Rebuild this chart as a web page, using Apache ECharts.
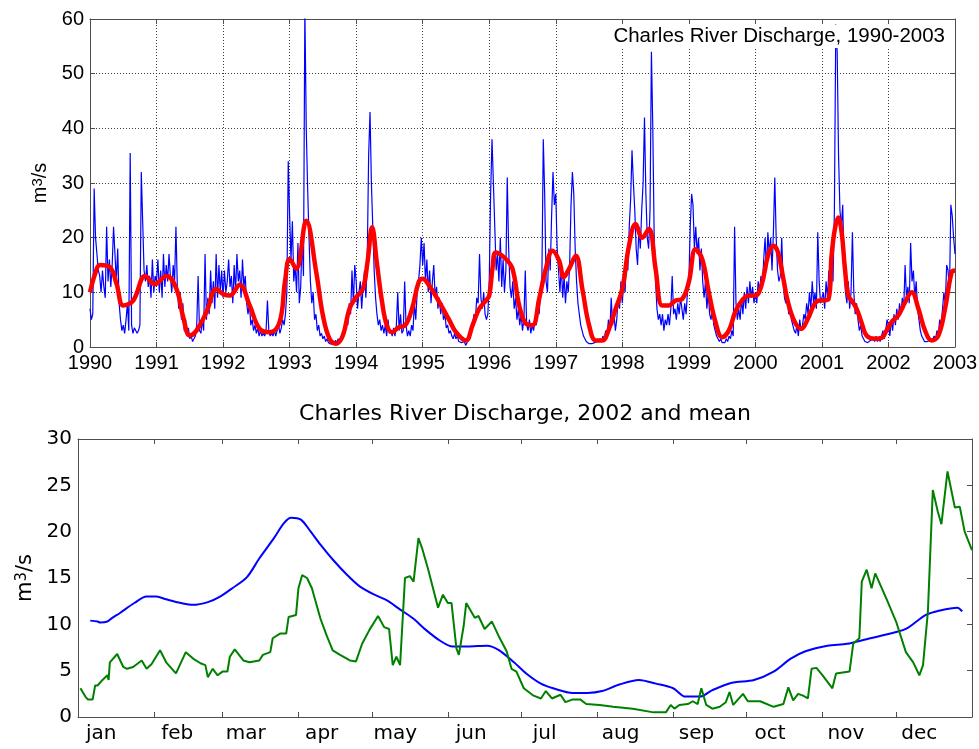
<!DOCTYPE html>
<html>
<head>
<meta charset="utf-8">
<title>Charles River Discharge</title>
<script src="https://cdn.jsdelivr.net/npm/echarts@6/dist/echarts.min.js"></script>
<style>
  html, body { margin: 0; padding: 0; background: #fff; }
  #chart { width: 979px; height: 749px; }
</style>
</head>
<body>
<div id="chart"></div>
<script>
// top panel: discharge (m3/s), 48 readings per year
var q1990 = [7,5,6,29,20,17,14,13,10,14,11,9,22,12,16,11,15,22,17,12,18,8,5,3,4,2.5,5,8,3,35.5,4,2.5,3.5,3,2.5,3,4,32,23,14,12,15,11,13,9,16,10,13];
var q1991 = [12,16,10,14,9,17,11,15,12,17,13,10,15,12,22,11,7,10,5,8,3,5,2,3.5,1.5,2,1,0.8,2,4,13,3,2.5,5,3,17,5,9,6,14,8,12,7,17,9,15,10,14];
var q1992 = [9,14,10,12,16,11,13,8,15,10,17,12,14,9,16,11,13,8,6,8,4,5,3,4,2.5,3.5,2,3,2,2.5,2,3,8.5,3,2,2.5,2,3,2,3,4,2.5,3.5,5,4,6,10,34];
var q1993 = [24,16,23,12,15,10,19,8,11,20,13,62,40,29,20,12,8,10,5,6,3,4,2,2.5,1.5,2,1,1.5,0.8,1,0.5,1,0.6,1.2,0.8,1.5,1,2,1.5,3,2.5,5,4,8,6,14,8,15];
var q1994 = [12,7,10,12,7,11,14,9,16,35,43,30,22,14,9,6,4,5,3,4,2.5,4,2,5,2.5,3,2,3.5,2,4,10,3,6,2.5,3,12,4,2,3,2,4,3,8,5,10,12,15,20];
var q1995 = [15,19,12,16,10,14,8,12,15,9,11,7,9,6,8,5,6,3.5,4,2.5,3,2,1.5,2.5,1.5,2,1,1.2,0.8,0.5,1,0.3,0.8,2,1.5,3,4,6,5,9,8,17,9,7,10,6,5,6];
var q1996 = [12,28,38,30,22,14,17,12,20,11,16,10,14,31,18,11,9,12,7,9,5,7,4,6,3,5,14,4,3,5,2.5,4,3,5,4,8,6,10,13,38,28,12,10,18,14,24,32,26];
var q1997 = [28,18,14,10,15,9,13,8,12,10,15,26,32,28,18,12,8,6,4,3,2,1.5,1,0.8,0.6,0.5,0.6,0.5,0.8,0.6,1,0.8,1.5,1,2,1.5,3,2,5,3,9,4,6,3,5,9,7,12];
var q1998 = [8,12,10,17,14,22,27,36,30,25,18,15,22,18,25,30,42,28,20,18,25,54,40,20,12,7,5,6,4,6,3,5,4,6,4,7,13,6,7,5,8,6,9,7,5,8,6,10];
var q1999 = [12,22,28,26,18,22,17,20,14,18,12,9,12,7,10,6,5,7,4,3,2,1.5,1,1.5,0.8,1,0.8,1.5,1,2,1.5,3,2,22,8,5,7,5,9,6,10,7,11,8,12,9,11,8];
var q2000 = [10,8,12,10,13,11,16,20,14,21,17,20,14,21,31,20,14,12,13,20,12,9,8,10,6,7,5,4,3,2.5,4,2,5,3,4,6,5,8,6,10,7,12,8,10,7,21,12,8];
var q2001 = [8,10,7,12,9,14,10,17,12,25,59,54,35,25,22,26,15,10,8,12,7,10,21,10,6,8,5,3,4,2,1.5,1,1.2,0.8,1,1.2,1,1.5,1,2,1,1.5,1,2,3,1.5,3,5];
var q2002 = [4,2,5,3,6,4,7,5,8,6,9,7,15,9,11,8,19,12,14,9,12,7,5,3,2,1.5,1,0.8,1,0.8,1.2,1,1.5,2,1.5,3,2.5,5,4,7,10,8,15,14,10,26,24,20];
var qJan2003 = 17;

// top panel: smoothed discharge (red)
var smoothT = [1990.0,1990.08,1990.15,1990.3,1990.4,1990.5,1990.65,1990.83,1990.97,
  1991.15,1991.3,1991.4,1991.5,1991.6,1991.75,1991.9,
  1992.0,1992.1,1992.25,1992.4,1992.55,1992.7,1992.85,1992.93,
  1993.0,1993.1,1993.25,1993.4,1993.5,1993.6,1993.7,1993.8,1993.9,
  1994.0,1994.1,1994.17,1994.24,1994.31,1994.39,1994.46,1994.54,1994.64,1994.74,1994.84,1994.94,
  1995.0,1995.1,1995.25,1995.4,1995.5,1995.65,1995.75,1995.85,1995.95,
  1996.0,1996.05,1996.1,1996.25,1996.35,1996.45,1996.55,1996.65,1996.75,1996.85,1996.95,
  1997.05,1997.12,1997.2,1997.3,1997.4,1997.5,1997.6,1997.7,1997.8,1997.9,
  1998.0,1998.1,1998.2,1998.3,1998.4,1998.5,1998.6,1998.7,1998.8,1998.9,
  1999.0,1999.1,1999.2,1999.3,1999.4,1999.5,1999.6,1999.7,1999.8,1999.9,
  2000.0,2000.09,2000.19,2000.27,2000.34,2000.42,2000.49,2000.59,2000.69,2000.79,2000.89,2000.97,
  2001.0,2001.1,2001.145,2001.195,2001.245,2001.296,2001.346,2001.396,2001.446,2001.52,2001.6,2001.67,2001.8,2001.9,2001.97,
  2002.05,2002.15,2002.25,2002.35,2002.45,2002.55,2002.65,2002.75,2002.85,2002.95,2003.0];
var smoothQ = [10,13.5,15,14.6,11.5,7.6,8.5,13,11.5,
  13,10.6,5.5,2.1,3,6.4,10.6,
  9.7,9.4,11.4,7.6,3.3,2.7,4.6,11.9,
  16.1,14.3,23.1,13.7,5.8,1.5,0.6,2.1,7,
  9.1,10.6,15.5,21.9,15.5,8.2,4,2.7,3.6,4,7,11.9,
  12.5,11.2,8.2,4.9,2.7,1.2,4,7,8.5,
  9.4,14.5,17.3,16.1,14.3,7.6,4.3,4,8.8,14.3,17.6,
  15.8,12.8,14.3,16.7,10.6,4,1.2,1.2,3.3,7,
  10.6,18.5,22.5,20,21.6,14.3,7.6,7.6,8.5,8.8,
  11.9,17.9,16.1,10,4.6,1.8,3,6.5,8.5,9.4,
  9.4,11.2,16.7,18.5,17.3,12.5,8.2,4.6,3.3,5.2,7.9,8.5,
  8.5,8.8,16.7,21.6,23.7,21,14.3,9.4,8.5,7,4.3,2.1,1.5,1.7,3,
  4.6,5.8,8.2,10,7,3,1.2,2.1,7,13.7,14];

// bottom panel: day of year and discharge
var meanDay = [5,8,9,12,14,17,23,28,32,36,42,47,53,58,63,69,74,80,84,87,91,95,99,104,110,115,121,126,131,137,
  142,148,153,159,167,172,178,183,189,194,202,208,214,221,229,236,243,248,254,259,267,276,284,291,297,306,314,322,330,338,346,352,359,361];
var meanQ = [10.4,10.3,10.2,10.3,10.7,11.2,12.3,13.0,13.0,12.7,12.3,12.1,12.4,13.0,13.9,15.1,17.1,19.3,20.9,21.5,
  21.3,20.0,18.6,17.0,15.3,14.1,13.2,12.6,11.7,10.6,9.4,8.2,7.6,7.6,7.7,7.2,5.9,4.7,3.6,3.1,
  2.6,2.6,2.8,3.5,4.0,3.6,3.1,2.2,2.2,2.9,3.7,4.0,4.9,6.3,7.1,7.7,7.9,8.4,8.9,9.5,11.0,11.5,11.8,11.4];

var day2002 = [1,3,4,6,7,8,10,12,12.5,13,16,18.5,20,22.5,26,28,30,33.5,36,40,44,47,50,52,53,55,57,59,61,62,64,67.5,70,74,75.5,
  78.5,79.5,82.5,85,86,89,90,91.5,93.5,95.5,99,101.5,104,107,111,113.5,116,119,122.5,125,127,128.5,130,131.5,133.5,135.5,137,
  139,140.5,143,147,149,151,152.5,154.5,155.5,157.5,158.5,162,163.5,166,169,172,175,177,179,182,186,189,191,193.5,197,199,
  202,205,207.5,213,218.5,226.5,235,240,242,243.5,245.5,249,251,253,254.5,256.5,259,262,264.5,266,267.5,271.5,273.5,278.5,
  284,288,290,292,294,296,298,299.5,301.5,304,308,309.5,315,316.5,319,320,322,324,325.5,330,334,338,341,343.5,345,346,347,
  349,351,352.5,355,358,360,362,365];
var q2002daily = [3.1,2.2,1.9,1.9,3.4,3.4,4.0,4.5,4.0,5.9,6.8,5.4,5.2,5.4,6.1,5.2,5.7,7.2,5.9,4.7,7.0,6.3,5.8,5.6,4.3,5.2,4.5,4.9,4.9,6.5,7.3,6.1,5.9,6.1,6.7,
  7.0,8.5,9.0,9.0,10.8,11.0,13.9,15.3,15.0,13.9,10.6,8.8,7.2,6.7,6.1,6.0,7.9,9.4,10.9,9.7,9.5,5.6,6.5,5.6,15.0,15.2,14.6,
  19.3,18.2,15.9,11.8,13.2,12.3,12.3,7.4,6.7,9.9,12.3,10.7,10.9,9.5,10.3,8.6,7.1,5.2,4.9,3.1,2.3,2.0,2.8,2.0,2.4,1.6,
  1.9,1.9,1.4,1.3,1.1,0.9,0.5,0.5,1.3,0.9,1.3,1.4,1.7,1.4,3.1,1.3,0.9,1.1,1.6,2.7,1.3,2.5,1.7,1.7,
  1.1,1.4,3.2,1.8,2.5,2.3,2.0,5.2,5.3,4.5,3.1,4.7,4.9,7.9,8.5,14.6,15.9,13.9,15.5,12.8,10.3,7.0,5.9,4.5,5.6,8.5,11.4,
  24.5,22.2,20.8,26.5,22.6,22.7,20.0,18.0];

var monthNames = ['jan','feb','mar','apr','may','jun','jul','aug','sep','oct','nov','dec'];
var monthLen = [31,28,31,30,31,30,31,31,30,31,30,31];

var yearly = [q1990,q1991,q1992,q1993,q1994,q1995,q1996,q1997,q1998,q1999,q2000,q2001,q2002];
var daily = [];
yearly.forEach(function (arr, k) {
  arr.forEach(function (v, i) { daily.push([1990 + k + i / arr.length, v]); });
});
daily.push([2003, qJan2003]);

function zip(xs, ys) {
  return xs.map(function (x, i) { return [x, ys[i]]; });
}

// month boundaries and label spots (labels sit a bit left of mid-month in the original)
var monthStart = [0];
monthLen.forEach(function (n, i) { monthStart.push(monthStart[i] + n); });
var labelDay = monthStart.slice(0, 12).map(function (d) { return d + 9.5; });

var topFont = '"Liberation Sans", Arial, sans-serif';
var botFont = '"DejaVu Sans", sans-serif';
var frame = '#4d4d4d';
var gridDots = { show: true, lineStyle: { color: '#3a3a3a', width: 1, type: [1, 2] } };

function boxAxis(extra) {
  var a = {
    axisLine: { show: true, onZero: false, lineStyle: { color: frame, width: 1 } },
    axisTick: { show: true, inside: true, length: 5, lineStyle: { color: frame } },
    axisLabel: { show: false },
    splitLine: { show: false }
  };
  for (var k in extra) a[k] = extra[k];
  return a;
}

var chart = echarts.init(document.getElementById('chart'));
chart.setOption({
  animation: false,
  backgroundColor: '#fff',
  title: [{
    text: 'Charles River Discharge, 1990-2003',
    right: 32, top: 25, padding: [1, 2],
    backgroundColor: '#fff',
    textStyle: { fontFamily: topFont, fontSize: 20.5, fontWeight: 'normal', color: '#000' }
  }, {
    text: 'Charles River Discharge, 2002 and mean',
    left: 525, top: 403, textAlign: 'center', padding: 0,
    textStyle: { fontFamily: botFont, fontSize: 22, fontWeight: 'normal', color: '#000' }
  }],
  grid: [
    { left: 90, top: 19, width: 865, height: 328, outerBoundsMode: 'none' },
    { left: 78, top: 439, width: 894, height: 278, outerBoundsMode: 'none' }
  ],
  xAxis: [
    boxAxis({
      gridIndex: 0, type: 'value', min: 1990, max: 2003, interval: 1, position: 'bottom',
      axisLabel: { show: true, margin: 6, fontFamily: topFont, fontSize: 20, color: '#000',
        formatter: function (v) { return String(v); } },
      splitLine: gridDots
    }),
    boxAxis({ gridIndex: 0, type: 'value', min: 1990, max: 2003, interval: 1, position: 'top' }),
    boxAxis({
      gridIndex: 1, type: 'value', min: 0, max: 365, position: 'bottom',
      axisTick: { show: true, inside: true, length: 5, lineStyle: { color: frame },
        customValues: monthStart.slice(1, 12) },
      axisLabel: { show: true, margin: 7, fontFamily: botFont, fontSize: 20, color: '#000',
        customValues: labelDay,
        formatter: function (v) { return monthNames[labelDay.indexOf(v)] || ''; } }
    }),
    boxAxis({
      gridIndex: 1, type: 'value', min: 0, max: 365, position: 'top',
      axisTick: { show: true, inside: true, length: 5, lineStyle: { color: frame },
        customValues: monthStart.slice(1, 12) }
    })
  ],
  yAxis: [
    boxAxis({
      gridIndex: 0, type: 'value', min: 0, max: 60, interval: 10, position: 'left',
      axisLabel: { show: true, margin: 6, fontFamily: topFont, fontSize: 20, color: '#000' },
      splitLine: gridDots,
      name: 'm{sup|3}/s', nameLocation: 'middle', nameGap: 33, nameRotate: 90,
      nameTextStyle: { fontFamily: topFont, fontSize: 20, color: '#000',
        rich: { sup: { fontFamily: topFont, fontSize: 15, color: '#000', verticalAlign: 'top', padding: [0, 0, 6, 0] } } }
    }),
    boxAxis({ gridIndex: 0, type: 'value', min: 0, max: 60, interval: 10, position: 'right' }),
    boxAxis({
      gridIndex: 1, type: 'value', min: 0, max: 30, interval: 5, position: 'left',
      axisTick: { show: false },
      axisLabel: { show: true, margin: 6, fontFamily: botFont, fontSize: 20, color: '#000' },
      name: 'm{sup|3}/s', nameLocation: 'middle', nameGap: 40, nameRotate: 90,
      nameTextStyle: { fontFamily: botFont, fontSize: 21, color: '#000',
        rich: { sup: { fontFamily: botFont, fontSize: 15, color: '#000', verticalAlign: 'top', padding: [0, 0, 6, 0] } } }
    }),
    boxAxis({ gridIndex: 1, type: 'value', min: 0, max: 30, interval: 5, position: 'right' })
  ],
  series: [{
    name: 'daily', type: 'line', xAxisIndex: 0, yAxisIndex: 0,
    data: daily, showSymbol: false, symbol: 'none', z: 2,
    lineStyle: { color: '#0000ff', width: 1.2 }
  }, {
    name: 'smoothed', type: 'line', xAxisIndex: 0, yAxisIndex: 0,
    data: zip(smoothT, smoothQ), showSymbol: false, symbol: 'none', smooth: 0.4, z: 3,
    lineStyle: { color: '#ff0000', width: 4.5 }
  }, {
    name: 'mean', type: 'line', xAxisIndex: 2, yAxisIndex: 2,
    data: zip(meanDay, meanQ), showSymbol: false, symbol: 'none', smooth: 0.3, z: 2,
    lineStyle: { color: '#0000ff', width: 2 }
  }, {
    name: '2002', type: 'line', xAxisIndex: 2, yAxisIndex: 2,
    data: zip(day2002, q2002daily), showSymbol: false, symbol: 'none', z: 3,
    lineStyle: { color: '#008000', width: 2 }
  }]
});
</script>
</body>
</html>
